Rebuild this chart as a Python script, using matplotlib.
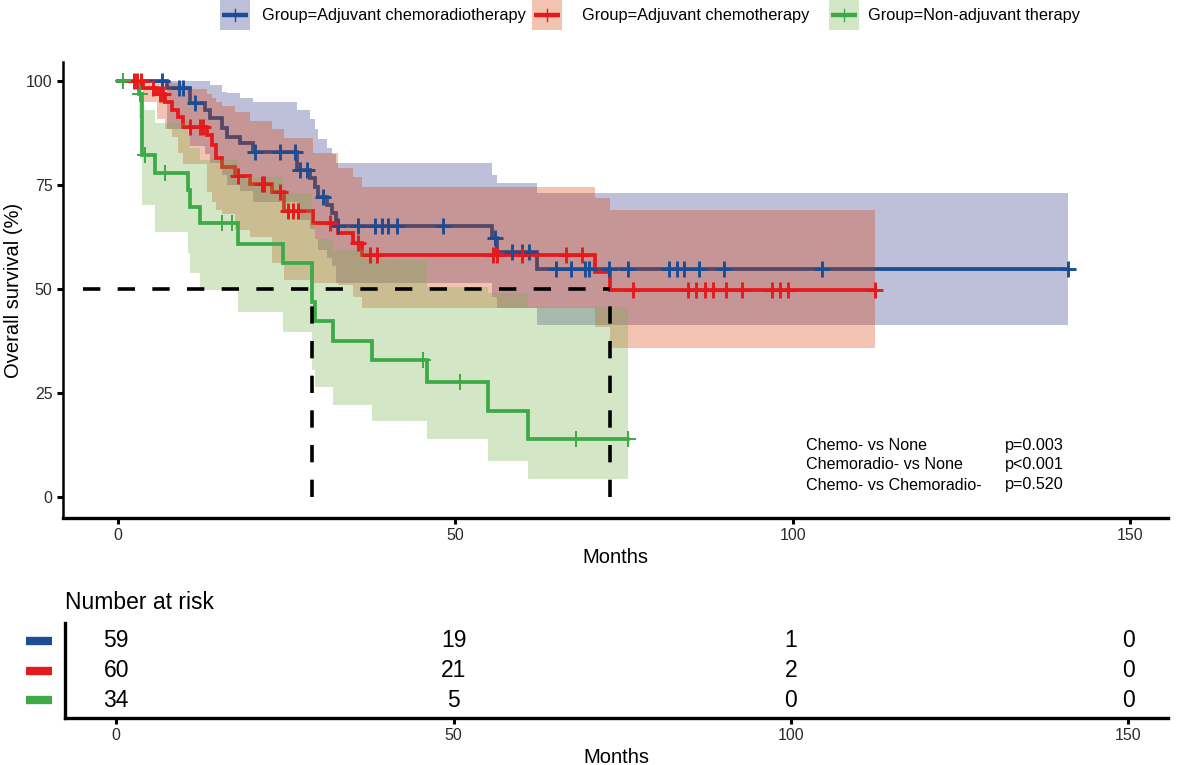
#!/usr/bin/env python3
"""
Kaplan-Meier overall survival by adjuvant treatment group, with number-at-risk table.
"""

import matplotlib
matplotlib.use("Agg")
import matplotlib.pyplot as plt
from matplotlib.patches import Rectangle

plt.rcParams["font.family"] = ["Liberation Sans", "DejaVu Sans"]

# ---- data (months, survival %) ----
group_labels = ["Group=Adjuvant chemoradiotherapy",
                "Group=Adjuvant chemotherapy",
                "Group=Non-adjuvant therapy"]

# adjuvant chemoradiotherapy
crt_time = [0, 7.3, 10.7, 12.9, 13.6, 15.4, 16.2, 18.1, 20.0, 26.5, 28.5, 29.2,
            29.6, 31.0, 31.7, 32.3, 55.4, 56.2, 62.1]
crt_surv = [100, 98.3, 94.7, 93.0, 91.1, 88.7, 86.5, 85.1, 82.9, 78.6, 76.7, 74.5,
            72.1, 70.2, 68.3, 65.1, 62.3, 58.9, 54.8]
crt_upper = [100, 100, 100, 100, 99.0, 97.5, 97.1, 96.0, 95.0, 93.0, 91.0, 88.5,
             86.0, 84.0, 82.5, 80.3, 77.5, 75.5, 73.1]
crt_lower = [100, 88.5, 84.5, 82.5, 80.3, 77.5, 75.0, 73.5, 71.0, 66.5, 64.5, 62.0,
             59.5, 57.5, 55.5, 51.5, 48.0, 45.4, 41.3]
crt_censor = [6.5, 9.0, 9.6, 11.4, 20.3, 24.0, 26.2, 27.0, 28.0, 30.4, 32.6, 35.6,
              38.1, 39.1, 40.0, 41.4, 48.2, 55.9, 58.4, 59.9, 60.9, 64.9, 67.1, 69.2,
              69.8, 72.8, 75.6, 81.7, 82.9, 83.9, 86.1, 89.8, 104.3, 140.8]
crt_end = 140.8

# adjuvant chemotherapy
ct_time = [0, 3.7, 5.8, 7.0, 8.0, 8.9, 9.6, 13.2, 13.9, 14.5, 15.4, 17.3, 19.6,
           22.8, 24.6, 28.9, 32.6, 34.8, 36.2, 70.7, 72.9]
ct_surv = [100, 98.3, 96.9, 95.0, 93.0, 91.3, 88.9, 87.0, 84.6, 81.5, 79.3, 77.2,
           75.2, 73.3, 68.8, 65.9, 63.5, 61.1, 58.2, 54.1, 49.8]
ct_upper = [100, 100, 100, 100, 99.5, 99.0, 98.0, 97.0, 96.0, 95.0, 94.0, 92.5,
            90.5, 88.5, 86.3, 82.7, 79.0, 77.0, 74.5, 71.9, 69.0]
ct_lower = [100, 95.0, 91.0, 88.5, 86.5, 82.7, 80.0, 73.3, 71.0, 69.0, 68.0, 64.2,
            62.5, 56.3, 52.2, 51.5, 51.0, 48.1, 45.4, 40.9, 35.8]
ct_censor = [2.4, 2.8, 3.4, 5.2, 6.2, 6.6, 10.7, 12.2, 12.6, 17.8, 21.3, 21.6,
             24.0, 25.2, 25.9, 26.7, 31.4, 35.6, 37.4, 38.4, 55.6, 56.2, 59.9,
             66.4, 68.8, 76.3, 84.5, 85.7, 87.0, 88.2, 90.1, 92.5, 96.9, 98.1,
             99.3, 112.2]
ct_end = 112.2

# non-adjuvant therapy
na_time = [0, 3.1, 3.6, 5.5, 10.3, 10.7, 12.2, 17.8, 24.4, 28.7, 29.2, 31.9,
           37.7, 45.8, 54.9, 60.7]
na_surv = [100, 96.9, 82.2, 77.9, 73.8, 69.8, 65.8, 60.8, 56.2, 46.9, 42.4, 37.6,
           32.9, 27.6, 20.7, 13.9]
na_upper = [100, 100, 93, 90, 87, 84, 81, 77, 73, 66, 62, 59.4, 57, 50.5, 49,
            45.7]
na_lower = [100, 91, 70.2, 63.7, 58.7, 53.8, 49.8, 44.5, 39.7, 30.5, 26.4, 22.1,
            18.3, 13.9, 8.7, 4.3]
na_censor = [0.7, 3.3, 4.0, 7.0, 15.4, 16.9, 45.2, 50.7, 67.9, 75.6]
na_end = 75.6

risk_times = [0, 50, 100, 150]
risk_crt = [59, 19, 1, 0]
risk_ct = [60, 21, 2, 0]
risk_na = [34, 5, 0, 0]

pvalue_labels = ["Chemo- vs None", "Chemoradio- vs None", "Chemo- vs Chemoradio-"]
pvalue_texts = ["p=0.003", "p<0.001", "p=0.520"]

line_colors = ["#1B4D96", "#E41A1C", "#3DAA48"]
fill_colors = ["#2A2D80", "#DA3A00", "#70B248"]


def surv_at(times, surv, t):
    """Step-function lookup of survival at time t."""
    val = surv[0]
    for ti, si in zip(times, surv):
        if ti <= t:
            val = si
    return val


def main():
    W, H = 1181, 765
    fig = plt.figure(figsize=(W / 100, H / 100), dpi=100)

    def px_axes(left, top, right, bottom):
        return fig.add_axes([left / W, 1 - bottom / H, (right - left) / W, (bottom - top) / H])

    ax = px_axes(63, 62, 1168, 518)

    groups = [
        (crt_time, crt_surv, crt_lower, crt_upper, crt_censor, crt_end),
        (ct_time, ct_surv, ct_lower, ct_upper, ct_censor, ct_end),
        (na_time, na_surv, na_lower, na_upper, na_censor, na_end),
    ]

    medians = []
    for i, (t, s, lo, up, cens, end) in enumerate(groups):
        tt = list(t) + [end]
        ss = list(s) + [s[-1]]
        ll = list(lo) + [lo[-1]]
        uu = list(up) + [up[-1]]
        z = 1 + 2 * i
        ax.fill_between(tt, ll, uu, step="post", color=fill_colors[i], alpha=0.3,
                        linewidth=0, zorder=z)
        ax.step(tt, ss, where="post", color=line_colors[i], linewidth=2.7,
                zorder=z + 0.5, solid_joinstyle="miter")
        cy = [surv_at(t, s, c) for c in cens]
        ax.plot(cens, cy, linestyle="none", marker="+", markersize=12,
                markeredgewidth=2.1 if i < 2 else 1.4, color=line_colors[i], zorder=8)
        below = [ti for ti, si in zip(t, s) if si <= 50]
        if below:
            medians.append(below[0])

    # median survival lines
    dash = (0, (4.8, 4.8))
    ax.plot([-5.2, max(medians)], [50, 50], color="black", linewidth=2.6,
            linestyle=dash, zorder=9)
    for m in medians:
        ax.plot([m, m], [0, 50], color="black", linewidth=2.6, linestyle=dash, zorder=9)

    ax.set_xlim(-8.15, 155.6)
    ax.set_ylim(-5.05, 104.6)
    ax.set_xticks([0, 50, 100, 150])
    ax.set_yticks([0, 25, 50, 75, 100])
    ax.tick_params(axis="both", labelsize=11.5, length=4, width=2.2, colors="black",
                   labelcolor="#2b2b2b")
    for side in ["top", "right"]:
        ax.spines[side].set_visible(False)
    ax.spines["left"].set_linewidth(1.8)
    ax.spines["bottom"].set_linewidth(2.4)
    ax.set_xlabel("Months", fontsize=14.5, labelpad=3)
    ax.set_ylabel("Overall survival (%)", fontsize=14.5)
    ax.yaxis.set_label_coords(-0.036, 0.5)

    for k, (lab, p) in enumerate(zip(pvalue_labels, pvalue_texts)):
        y = 445 + 20 * k
        fig.text(806 / W, 1 - y / H, lab, fontsize=11.6, va="center", ha="left")
        fig.text(1005 / W, 1 - y / H, p, fontsize=11.6, va="center", ha="left")

    # ---- legend at the top ----
    leg = fig.add_axes([0, 0, 1, 1])
    leg.set_xlim(0, W)
    leg.set_ylim(H, 0)
    leg.axis("off")
    leg.patch.set_alpha(0)
    key_x = [220, 532, 829]
    text_x = [262, 582, 868]
    for i in range(3):
        leg.add_patch(Rectangle((key_x[i], 0), 30, 30, facecolor=fill_colors[i],
                                alpha=0.3, edgecolor="none"))
        leg.plot([key_x[i] + 2, key_x[i] + 28], [15, 15], color=line_colors[i],
                 linewidth=3.2, solid_capstyle="butt")
        leg.plot([key_x[i] + 15, key_x[i] + 15], [9, 21], color=line_colors[i],
                 linewidth=1.0)
        leg.text(text_x[i], 15, group_labels[i], fontsize=11.8, va="center", ha="left")

    # ---- number at risk table ----
    rax = px_axes(65, 623, 1168, 718)
    rax.set_xlim(-7.6, 155.9)
    rax.set_ylim(0.4, 3.6)
    rows = [risk_crt, risk_ct, risk_na]
    for r, counts in enumerate(rows):
        y = 3 - r
        for tx, n in zip(risk_times, counts):
            rax.text(tx, y, str(n), fontsize=16.5, ha="center", va="center")
        rax.plot([-13.4, -9.6], [y, y], color=line_colors[r], linewidth=6,
                 solid_capstyle="butt", clip_on=False)
    rax.set_xticks(risk_times)
    rax.set_yticks([])
    rax.tick_params(axis="x", labelsize=11.5, length=4, width=2.2, labelcolor="#2b2b2b")
    for side in ["top", "right"]:
        rax.spines[side].set_visible(False)
    rax.spines["left"].set_linewidth(2.4)
    rax.spines["bottom"].set_linewidth(2.4)
    rax.set_xlabel("Months", fontsize=14.5, labelpad=3)
    rax.set_title("Number at risk", fontsize=16.5, loc="left", pad=10, x=0.0)

    fig.savefig("out.png", dpi=100)
    plt.close(fig)


if __name__ == "__main__":
    main()
